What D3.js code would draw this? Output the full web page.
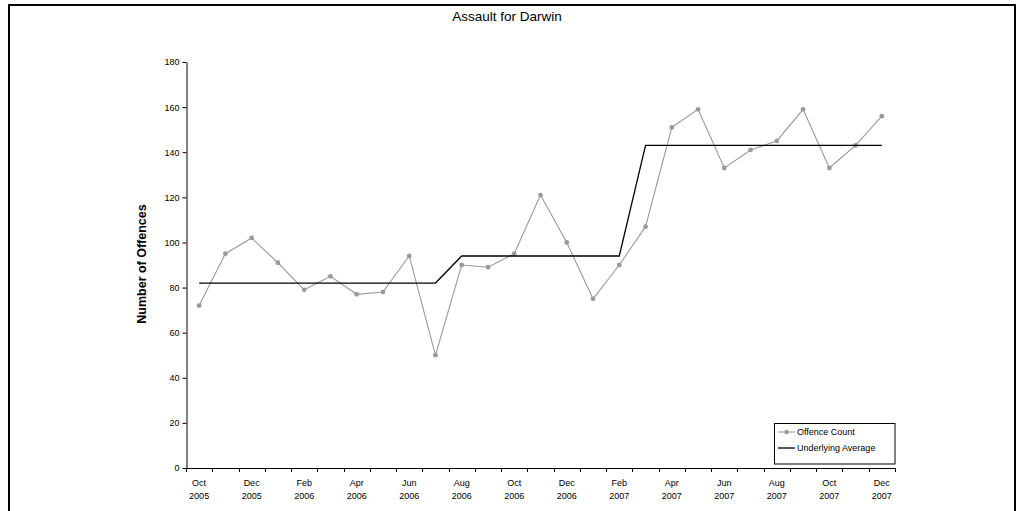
<!DOCTYPE html>
<html>
<head>
<meta charset="utf-8">
<script src="https://cdn.jsdelivr.net/npm/d3@7"></script>
<style>
  html, body { margin: 0; padding: 0; background: #fff; }
  svg { display: block; font-family: "Liberation Sans", Arial, sans-serif; }
</style>
</head>
<body>
<script>
const months = [
  "Oct 2005","Nov 2005","Dec 2005",
  "Jan 2006","Feb 2006","Mar 2006","Apr 2006","May 2006","Jun 2006",
  "Jul 2006","Aug 2006","Sep 2006","Oct 2006","Nov 2006","Dec 2006",
  "Jan 2007","Feb 2007","Mar 2007","Apr 2007","May 2007","Jun 2007",
  "Jul 2007","Aug 2007","Sep 2007","Oct 2007","Nov 2007","Dec 2007"
];
const offenceCount = [
  72, 95, 102,
  91, 79, 85, 77, 78, 94, 50, 90, 89, 95, 121, 100,
  75, 90, 107, 151, 159, 133, 141, 145, 159, 133, 143, 156
];
const underlyingAverage = [
  82, 82, 82,
  82, 82, 82, 82, 82, 82, 82, 94, 94, 94, 94, 94,
  94, 94, 143, 143, 143, 143, 143, 143, 143, 143, 143, 143
];
const yTicks = [0, 20, 40, 60, 80, 100, 120, 140, 160, 180];
const seriesNames = ["Offence Count", "Underlying Average"];
const title = "Assault for Darwin";
const yTitle = "Number of Offences";

const W = 1022, H = 511;
const svg = d3.select("body").append("svg").attr("width", W).attr("height", H);

// outer border
svg.append("rect").attr("x", 9).attr("y", 5).attr("width", 1006).attr("height", 600)
  .attr("fill", "none").attr("stroke", "#000").attr("stroke-width", 2);

const x = d3.scaleBand().domain(months).range([186, 895]).padding(0);
const y = d3.scaleLinear().domain([0, 180]).range([468, 62]);
const bw = x.bandwidth();
const cx = d => x(d) + bw / 2;

// title
svg.append("text").attr("x", 507).attr("y", 21).attr("text-anchor", "middle")
  .attr("font-size", 13.5).attr("fill", "#000").text(title);

// y title
svg.append("text").attr("transform", "translate(146,264) rotate(-90)")
  .attr("text-anchor", "middle").attr("font-size", 12.5).attr("font-weight", "bold")
  .attr("fill", "#000").text(yTitle);

// y axis
const gy = svg.append("g").attr("transform", "translate(186.5,0)")
  .call(d3.axisLeft(y).tickValues(yTicks).tickSize(4).tickPadding(3).tickSizeOuter(0));
gy.select(".domain").attr("stroke", "#000");
gy.selectAll(".tick line").attr("stroke", "#000");
gy.selectAll(".tick text").attr("font-size", 9).attr("fill", "#000")
  .attr("font-family", "Liberation Sans, Arial, sans-serif");

// x axis
const gx = svg.append("g");
gx.append("line").attr("x1", x.range()[0]).attr("x2", x.range()[1])
  .attr("y1", 468.5).attr("y2", 468.5).attr("stroke", "#000");
const edges = months.map(d => x(d)).concat([x.range()[1]]);
gx.selectAll("line.tk").data(edges).enter().append("line").attr("class", "tk")
  .attr("x1", d => Math.round(d) + 0.5).attr("x2", d => Math.round(d) + 0.5)
  .attr("y1", 468).attr("y2", 472).attr("stroke", "#000");
const labelled = months.filter((d, i) => i % 2 === 0);
const lbl = gx.selectAll("text.xl").data(labelled).enter().append("text").attr("class", "xl")
  .attr("text-anchor", "middle").attr("font-size", 9).attr("fill", "#000");
lbl.append("tspan").attr("x", d => cx(d)).attr("y", 486).text(d => d.split(" ")[0]);
lbl.append("tspan").attr("x", d => cx(d)).attr("y", 499).text(d => d.split(" ")[1]);

// series
const grey = "#9a9a9a";
const line = d3.line().x((d, i) => cx(months[i])).y(d => y(d));
svg.append("path").datum(offenceCount).attr("d", line)
  .attr("fill", "none").attr("stroke", grey).attr("stroke-width", 1.1);
svg.selectAll("circle.pt").data(offenceCount).enter().append("circle").attr("class", "pt")
  .attr("cx", (d, i) => cx(months[i])).attr("cy", d => y(d)).attr("r", 2.4).attr("fill", grey);
svg.append("path").datum(underlyingAverage).attr("d", line)
  .attr("fill", "none").attr("stroke", "#000").attr("stroke-width", 1.3);

// legend
const lg = svg.append("g");
lg.append("rect").attr("x", 774.5).attr("y", 423.5).attr("width", 120.5).attr("height", 40.5)
  .attr("fill", "#fff").attr("stroke", "#000");
const rows = [432, 448];
lg.append("line").attr("x1", 778).attr("x2", 795).attr("y1", rows[0]).attr("y2", rows[0])
  .attr("stroke", grey).attr("stroke-width", 1.1);
lg.append("circle").attr("cx", 786.5).attr("cy", rows[0]).attr("r", 2.2).attr("fill", grey);
lg.append("line").attr("x1", 778).attr("x2", 795).attr("y1", rows[1]).attr("y2", rows[1])
  .attr("stroke", "#000").attr("stroke-width", 1.3);
lg.selectAll("text.lt").data(seriesNames).enter().append("text").attr("class", "lt")
  .attr("x", 797).attr("y", (d, i) => rows[i] + 3.3).attr("font-size", 9).attr("fill", "#000")
  .text(d => d);
</script>
</body>
</html>
